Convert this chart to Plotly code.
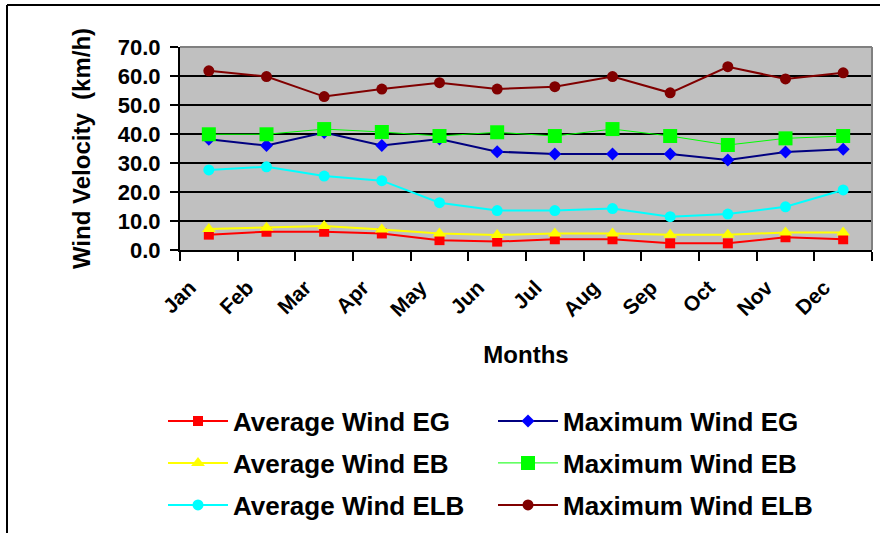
import plotly.graph_objects as go

months = ["Jan", "Feb", "Mar", "Apr", "May", "Jun", "Jul", "Aug", "Sep", "Oct", "Nov", "Dec"]

avg_eg = [5.3, 6.3, 6.3, 5.7, 3.4, 2.9, 3.7, 3.7, 2.3, 2.3, 4.4, 3.7]
max_eg = [38.2, 36.0, 40.5, 36.0, 38.3, 33.9, 33.1, 33.1, 33.1, 31.0, 33.8, 34.7]
avg_eb = [7.2, 7.7, 8.3, 7.1, 5.7, 5.2, 5.7, 5.7, 5.3, 5.3, 6.0, 6.0]
max_eb = [39.9, 39.9, 41.7, 40.7, 39.3, 40.6, 39.3, 41.7, 39.3, 36.2, 38.5, 39.3]
avg_elb = [27.6, 28.7, 25.5, 23.9, 16.3, 13.6, 13.6, 14.3, 11.5, 12.4, 14.9, 20.7]
max_elb = [61.8, 59.8, 52.9, 55.5, 57.7, 55.5, 56.3, 59.8, 54.2, 63.2, 59.0, 61.1]

y_ticks = [0, 10, 20, 30, 40, 50, 60, 70]

W, H = 880, 533
L, R, T, B = 180, 872, 47, 250  # plot area in pixels

def px_x(x):
    return (x - L) / (R - L)

def px_y(y):
    return (B - y) / (B - T)

FONT = "Liberation Sans, Arial, sans-serif"

series = [
    ("Average Wind EG", avg_eg, dict(color="#FF0000", width=2), dict(symbol="square", size=10, color="#FF0000"), "legend"),
    ("Maximum Wind EG", max_eg, dict(color="#000080", width=2), dict(symbol="diamond", size=10, color="#0000FF"), "legend"),
    ("Average Wind EB", avg_eb, dict(color="#FFFF00", width=2), dict(symbol="triangle-up", size=12, color="#FFFF00"), "legend2"),
    ("Maximum Wind EB", max_eb, dict(color="#00FF00", width=1), dict(symbol="square", size=14, color="#00FF00"), "legend2"),
    ("Average Wind ELB", avg_elb, dict(color="#00FFFF", width=2), dict(symbol="circle", size=11, color="#00FFFF"), "legend3"),
    ("Maximum Wind ELB", max_elb, dict(color="#800000", width=2), dict(symbol="circle", size=11, color="#800000"), "legend3"),
]

fig = go.Figure()
for name, vals, line, marker, lg in series:
    fig.add_trace(go.Scatter(x=months, y=vals, name=name, mode="lines+markers",
                             line=line, marker=marker, legend=lg))

leg_common = dict(orientation="h", entrywidth=255, entrywidthmode="pixels",
                  x=px_x(163), xanchor="left", yanchor="middle",
                  font=dict(family=FONT, size=26, color="black", weight="bold"),
                  bgcolor="rgba(0,0,0,0)", itemwidth=60, traceorder="normal")

fig.update_layout(
    width=W, height=H,
    margin=dict(l=L, r=W - R, t=T, b=H - B, pad=0, autoexpand=False),
    paper_bgcolor="white",
    plot_bgcolor="#C0C0C0",
    font=dict(family=FONT, size=20, color="black"),
    showlegend=True,
    legend=dict(leg_common, y=px_y(421)),
    legend2=dict(leg_common, y=px_y(463)),
    legend3=dict(leg_common, y=px_y(505)),
    xaxis=dict(
        type="category", range=[-0.5, 11.5], automargin=False,
        showgrid=False, showline=True, linecolor="black", linewidth=2,
        ticks="outside", tickson="boundaries", ticklen=9, tickwidth=2, tickcolor="black",
        tickangle=-45, tickfont=dict(family=FONT, size=21, weight="bold"),
        ticklabelshift=-19, ticklabelstandoff=15,
        title=dict(text="Months", font=dict(family=FONT, size=24, weight="bold"), standoff=26),
    ),
    yaxis=dict(
        range=[0, 70], tickvals=y_ticks, tickformat=".1f", automargin=False,
        showgrid=True, gridcolor="black", gridwidth=2,
        showline=True, linecolor="black", linewidth=2,
        ticks="outside", ticklen=8, tickwidth=2, tickcolor="black",
        tickfont=dict(family=FONT, size=22, weight="bold"),
        ticklabelstandoff=5, zeroline=False,
        title=dict(text="Wind Velocity\u00a0\u00a0(km/h)", font=dict(family=FONT, size=24, weight="bold"), standoff=20),
    ),
    shapes=[
        dict(type="line", xref="paper", yref="paper", x0=0, x1=1, y0=1, y1=1,
             line=dict(color="#808080", width=2), layer="above"),
        dict(type="line", xref="paper", yref="paper", x0=1, x1=1, y0=0, y1=1,
             line=dict(color="#808080", width=2), layer="above"),
        dict(type="line", xref="paper", yref="paper", x0=px_x(7), x1=px_x(7), y0=px_y(5), y1=px_y(560),
             line=dict(color="black", width=2), layer="above"),
        dict(type="line", xref="paper", yref="paper", x0=px_x(7), x1=px_x(900), y0=px_y(5), y1=px_y(5),
             line=dict(color="black", width=2), layer="above"),
    ],
)

fig.write_html("out.html", config={"displayModeBar": False},
               post_script="document.body.style.margin='0';")
